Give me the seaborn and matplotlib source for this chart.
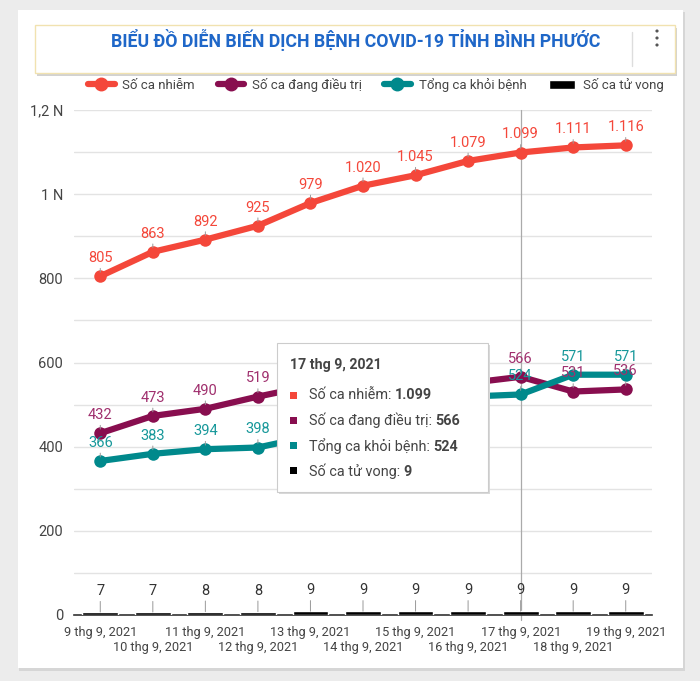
import matplotlib
matplotlib.use("Agg")
import matplotlib.pyplot as plt
from matplotlib.patches import Rectangle, Circle
from matplotlib.lines import Line2D
from matplotlib.text import Annotation
import seaborn as sns
import pandas as pd

# ---- data (doc tu hinh) ----
ngay = ["9 thg 9, 2021", "10 thg 9, 2021", "11 thg 9, 2021", "12 thg 9, 2021",
        "13 thg 9, 2021", "14 thg 9, 2021", "15 thg 9, 2021", "16 thg 9, 2021",
        "17 thg 9, 2021", "18 thg 9, 2021", "19 thg 9, 2021"]
ca_nhiem = [805, 863, 892, 925, 979, 1020, 1045, 1079, 1099, 1111, 1116]
dang_dieu_tri = [432, 473, 490, 519, 545, 551, 546, 551, 566, 531, 536]
khoi_benh = [366, 383, 394, 398, 425, 460, 490, 519, 524, 571, 571]
tu_vong = [7, 7, 8, 8, 9, 9, 9, 9, 9, 9, 9]

ten = ["Số ca nhiễm", "Số ca đang điều trị", "Tổng ca khỏi bệnh", "Số ca tử vong"]
mau = ["#f4473a", "#880e4f", "#00898c", "#000000"]
mau_nhan = ["#f4473a", "#a0306e", "#17989a", "#333333"]
tieu_de = "BIỂU ĐỒ DIỄN BIẾN DỊCH BỆNH COVID-19 TỈNH BÌNH PHƯỚC"
chon = 8  # ngay 17 dang duoc tro chuot

df = pd.DataFrame({"i": range(len(ngay)), "nhiem": ca_nhiem, "dieutri": dang_dieu_tri,
                   "khoi": khoi_benh, "tuvong": tu_vong})

def vn(n):
    return f"{n:,}".replace(",", ".")

sns.set_style("white")
plt.rcParams["font.family"] = ["Roboto", "DejaVu Sans"]

W, H = 700, 681
fig = plt.figure(figsize=(W / 100, H / 100), dpi=100)
fig.patch.set_facecolor("#ececec")

def R(x0, y0, x1, y1, **kw):
    return Rectangle((x0 / W, 1 - y1 / H), (x1 - x0) / W, (y1 - y0) / H,
                     transform=fig.transFigure, **kw)

# the card + title box
fig.add_artist(R(19, 12, 685, 671, fc="#d6d6d6", ec="none", zorder=-3))
fig.add_artist(R(18, 10, 683, 668, fc="white", ec="none", zorder=-2))
fig.add_artist(R(37, 28, 677, 76, fc="#d2d2d2", ec="none", zorder=-1))
fig.add_artist(R(35, 25, 675, 73, fc="white", ec="#f1e2b0", lw=1, zorder=-1))
fig.text(356 / W, 1 - 40 / H, tieu_de, ha="center", va="center", color="#1f67c8",
         fontsize=12.8, fontweight="bold")
fig.add_artist(Line2D([632 / W, 632 / W], [1 - 32 / H, 1 - 66 / H], color="#dddddd",
                      lw=1, transform=fig.transFigure))
for yy in (31, 38, 45):
    fig.add_artist(Circle((657 / W, 1 - yy / H), 1.6 / W, fc="#555555", ec="none",
                          transform=fig.transFigure))

# ---- axes ----
ax = fig.add_axes([74 / W, 66 / H, 578 / W, 505 / H])
ax.set_facecolor("none")

sns.barplot(data=df, x="i", y="tuvong", color="black", width=0.68, ax=ax,
            saturation=1, zorder=3)
ax.axvline(chon, ymin=-0.01, color="#aaaaaa", lw=0.9, zorder=2, clip_on=False)

cot = ["nhiem", "dieutri", "khoi"]
for c, m in zip(cot, mau):
    sns.lineplot(data=df, x="i", y=c, color=m, lw=4.5, marker="o", markersize=9,
                 markeredgewidth=0, ax=ax, zorder=4)

# nhan so lieu
for c, mn in zip(cot, mau_nhan):
    for i, v in enumerate(df[c]):
        ax.annotate(vn(v), xy=(i, v), xytext=(0, 8), textcoords="offset points",
                    ha="center", va="bottom", fontsize=10.5, color=mn, zorder=5,
                    arrowprops=dict(arrowstyle="-", color="#999999", lw=0.7,
                                    shrinkA=0, shrinkB=3))
for i, v in enumerate(tu_vong):
    ax.annotate(str(v), xy=(i, v), xytext=(0, 10), textcoords="offset points",
                ha="center", va="bottom", fontsize=10.5, color="#333333", zorder=5,
                arrowprops=dict(arrowstyle="-", color="#999999", lw=0.7,
                                shrinkA=0, shrinkB=0))

ax.set_xlim(-0.5, len(ngay) - 0.5)
ax.set_ylim(0, 1200)
ax.set_yticks([0, 200, 400, 600, 800, 1000, 1200])
ax.set_yticklabels(["0", "200", "400", "600", "800", "1 N", "1,2 N"])
ax.set_yticks([100, 300, 500, 700, 900, 1100], minor=True)
ax.grid(axis="y", which="both", color="#e3e3e3", lw=1)
ax.set_xticks(range(len(ngay)))
ax.set_xticklabels([d if i % 2 == 0 else "\n" + d for i, d in enumerate(ngay)])
ax.tick_params(axis="x", length=0, pad=8, labelsize=9.2, labelcolor="#444444")
ax.tick_params(axis="y", which="both", length=0, pad=8, labelsize=10.5,
               labelcolor="#444444")
ax.set_xlabel("")
ax.set_ylabel("")
for s in ["top", "right", "left"]:
    ax.spines[s].set_visible(False)
ax.spines["bottom"].set_color("#333333")
ax.spines["bottom"].set_linewidth(1.2)

# ---- legend ----
handles = [Line2D([], [], color=m, lw=4.5, marker="o", markersize=9) for m in mau[:3]]
handles.append(Rectangle((0, 0), 1, 1, fc="black"))
fig.legend(handles, ten, loc="center", bbox_to_anchor=(376 / W, 1 - 85 / H), ncol=4,
           frameon=False, fontsize=9.5, handlelength=2.0, columnspacing=1.7,
           handletextpad=0.6, labelcolor="#444444")

# ---- tooltip ngay 17 ----
fig.add_artist(R(279, 345, 490, 494, fc="#d9d9d9", ec="none", zorder=6))
fig.add_artist(R(277, 343, 488, 492, fc="white", ec="#cccccc", lw=0.8, zorder=7))
fig.text(290 / W, 1 - 365 / H, ngay[chon], ha="left", va="center", fontsize=10.2,
         fontweight="bold", color="#444444", zorder=8)
gia_tri = [ca_nhiem[chon], dang_dieu_tri[chon], khoi_benh[chon], tu_vong[chon]]
for k, (t, m, v) in enumerate(zip(ten, mau, gia_tri)):
    yy = 395 + k * 25.3
    fig.add_artist(R(290, yy - 3.5, 297, yy + 3.5, fc=m, ec="none", zorder=8))
    tx = fig.text(309 / W, 1 - yy / H, t + ": ", ha="left", va="center", fontsize=10.4,
                  color="#444444", zorder=8)
    fig.add_artist(Annotation(vn(v), xy=(1, 0), xycoords=tx, ha="left", va="bottom",
                              fontsize=10.4, fontweight="bold", color="#444444",
                              zorder=8, annotation_clip=False))

fig.savefig("out.png", dpi=100, facecolor=fig.get_facecolor())
